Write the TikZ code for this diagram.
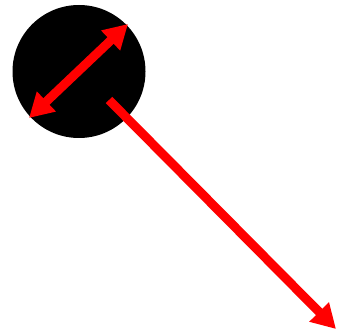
\documentclass[tikz,border=0pt]{standalone}
\usetikzlibrary{arrows.meta}
\begin{document}
\begin{tikzpicture}[x=1pt,y=-1pt,
  redarrow/.style={draw=red, line width=9pt, -{Triangle[length=24pt,width=26pt]}},
  reddouble/.style={draw=red, line width=9pt, {Triangle[length=24pt,width=26pt]}-{Triangle[length=24pt,width=26pt]}}]
\useasboundingbox (0,0) rectangle (337,336);
\node[circle, fill=black, minimum size=133pt, inner sep=0pt] (disc) at (79,71.5) {};
\coordinate (a1) at (29,118);
\coordinate (a2) at (128,24);
\coordinate (b1) at (109,100);
\coordinate (b2) at (336,329);
\draw[reddouble] (a1) -- (a2);
\draw[redarrow] (b1) -- (b2);
\end{tikzpicture}
\end{document}
